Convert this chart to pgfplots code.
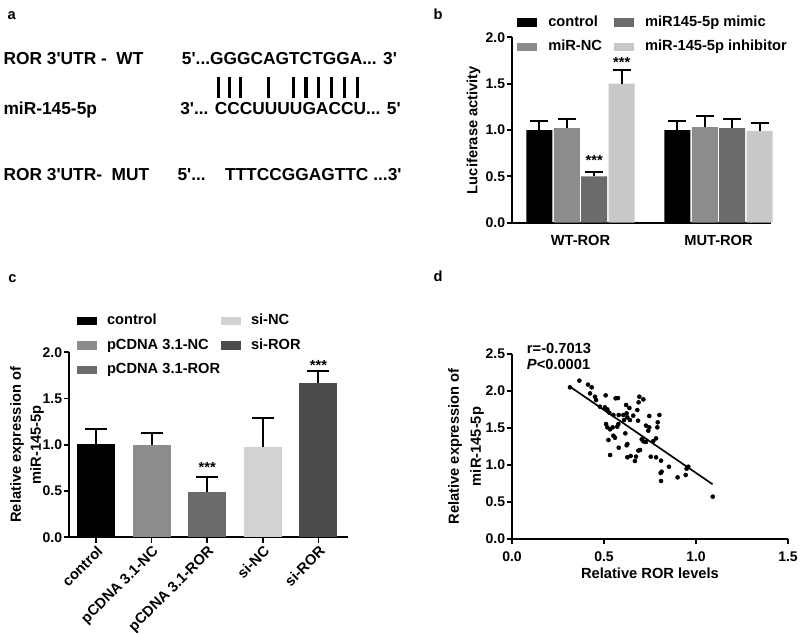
\documentclass[border=0pt]{standalone}
\usepackage{fontspec}
\setmainfont{Liberation Sans}
\usepackage{pgfplots}
\pgfplotsset{compat=1.18}

\definecolor{gnc}{HTML}{8C8C8C}
\definecolor{gmim}{HTML}{6B6B6B}
\definecolor{ginh}{HTML}{C8C8C8}
\definecolor{gsinc}{HTML}{D2D2D2}
\definecolor{gsiror}{HTML}{4B4B4B}

\newcommand\ap{\textquotesingle}
\newcommand\fa{\fontsize{13}{15}\selectfont\bfseries}
\newcommand\fl{\fontsize{11}{13}\selectfont\bfseries}

\pgfplotsset{
  panel/.style={
    scale only axis, axis lines=left,
    axis line style={-, line width=1.3pt},
    tick style={black, line width=1.3pt},
    tick align=outside, major tick length=4pt,
    tick label style={font=\fontsize{10.5}{12}\selectfont\bfseries},
    yticklabel style={inner xsep=1pt},
    label style={font=\fontsize{11}{15}\selectfont\bfseries},
    /pgf/number format/assume math mode=true,
    /pgf/number format/fixed, /pgf/number format/fixed zerofill,
    /pgf/number format/precision=1,
    clip=false},
  errs/.style={
    error bars/y dir=plus, error bars/y explicit, error bars/error mark=|,
    error bars/error bar style={black, line width=1.5pt},
    error bars/error mark options={black, line width=1.5pt, mark size=#1}},
  leg/.style={legend image code/.code={\fill[##1] (0pt,-3.25pt) rectangle (15pt,3.25pt);}},
}

\begin{document}
\begin{tikzpicture}[x=0.75pt, y=-0.75pt]
\useasboundingbox (0,0) rectangle (800,633);

%% panel letters
\node[font=\fl, anchor=base, inner sep=0] at (11.7,19.3) {a};
\node[font=\fl, anchor=base, inner sep=0] at (438,19.3) {b};
\node[font=\fl, anchor=base, inner sep=0] at (12.5,282.7) {c};
\node[font=\fl, anchor=base, inner sep=0] at (438,281) {d};

%% (a) sequences
\begin{scope}[every node/.style={font=\fa, anchor=base west, inner sep=0}]
  \node at (3.3,64) {ROR 3\ap UTR -\ \ WT};
  \node at (181.7,64) {5\ap...GGGCAGTCTGGA... 3\ap};
  \node at (3.3,114.3) {miR-145-5p};
  \node at (180,114.3) {3\ap... CCCUUUUGACCU... 5\ap};
  \node at (3.3,180.7) {ROR 3\ap UTR-\ \ MUT};
  \node at (177.3,180.7) {5\ap...\ \ \ \ TTTCCGGAGTTC ...3\ap};
\end{scope}
\foreach \bx in {218.3,229.3,240.7,268.3,293.3,306,318.3,331.7,344.3,357.3}
  \draw[line width=2.4pt] (\bx,76.7) -- (\bx,98.3);

%% (b) luciferase
\begin{axis}[panel, at={(384pt,-167.025pt)}, anchor=south west,
    width=194.25pt, height=139.05pt,
    xmin=-0.4964, xmax=1.3804, ymin=0, ymax=2,
    ytick={0,0.5,1,1.5,2},
    xtick={0,1}, xticklabels={WT-ROR,MUT-ROR},
    xtick style={draw=none}, xticklabel style={font=\fl, yshift=-2pt},
    ylabel={Luciferase activity},
    ylabel style={at={(axis description cs:-0.148,0.5)}, anchor=center},
    ybar=1.1pt, bar width=19.5pt, errs=6.75pt,
    legend columns=2, transpose legend, legend cell align=left,
    legend style={draw=none, fill=none, inner sep=0pt, at={(0.0193,1.118)}, anchor=north west,
      font=\fl, row sep=7.7pt, nodes={inner sep=0pt, text height=8pt, text depth=2.5pt},
      /tikz/every odd column/.append style={column sep=8.25pt},
      /tikz/every even column/.append style={column sep=9pt}}]
  \addplot[fill=black, draw=none, leg] coordinates {(0,1.00) +- (0,0.10) (1,1.00) +- (0,0.10)};
  \addplot[fill=gnc, draw=none, leg] coordinates {(0,1.02) +- (0,0.10) (1,1.03) +- (0,0.12)};
  \addplot[fill=gmim, draw=none, leg] coordinates {(0,0.50) +- (0,0.05) (1,1.02) +- (0,0.10)};
  \addplot[fill=ginh, draw=none, leg] coordinates {(0,1.50) +- (0,0.15) (1,0.99) +- (0,0.09)};
  \legend{control,miR-NC,miR145-5p mimic,miR-145-5p inhibitor}
  \node[font=\fl, anchor=base] at (axis cs:0.0996,0.621) {***};
  \node[font=\fl, anchor=base] at (axis cs:0.299,1.672) {***};
\end{axis}

%% (c) relative expression
\begin{axis}[panel, at={(51.75pt,-402.975pt)}, anchor=south west,
    width=209.25pt, height=138.75pt,
    xmin=-0.486, xmax=4.532, ymin=0, ymax=2,
    ytick={0,0.5,1,1.5,2},
    xtick={0,1,2,3,4}, xticklabels={control,pCDNA 3.1-NC,pCDNA 3.1-ROR,si-NC,si-ROR},
    xticklabel style={font=\fl, rotate=45, anchor=north east, inner sep=1pt},
    ylabel={Relative expression of\\miR-145-5p},
    ylabel style={align=center, at={(axis description cs:-0.1505,0.5)}, anchor=center},
    errs=8.25pt,
    legend columns=3, transpose legend, legend cell align=left,
    legend style={draw=none, fill=none, inner sep=0pt, at={(0.0287,1.2086)}, anchor=north west,
      font=\fl, row sep=7.9pt, nodes={inner sep=0pt, text height=8pt, text depth=2.5pt},
      /tikz/every odd column/.append style={column sep=7.3pt},
      /tikz/every even column/.append style={column sep=0.75pt}}]
  \addplot[ybar, bar width=28.5pt, fill=black, draw=none, leg] coordinates {(0,1.01) +- (0,0.16)};
  \addplot[ybar, bar width=28.5pt, fill=gnc, draw=none, leg] coordinates {(1,1.00) +- (0,0.13)};
  \addplot[ybar, bar width=28.5pt, fill=gmim, draw=none, leg] coordinates {(2,0.49) +- (0,0.16)};
  \addplot[ybar, bar width=28.5pt, fill=gsinc, draw=none, leg] coordinates {(3,0.98) +- (0,0.31)};
  \addplot[ybar, bar width=28.5pt, fill=gsiror, draw=none, leg] coordinates {(4,1.67) +- (0,0.13)};
  \legend{control,pCDNA 3.1-NC,pCDNA 3.1-ROR,si-NC,si-ROR}
  \node[font=\fl, anchor=base] at (axis cs:2,0.698) {***};
  \node[font=\fl, anchor=base] at (axis cs:4,1.808) {***};
\end{axis}

%% (d) correlation
\begin{axis}[panel, at={(384pt,-404.25pt)}, anchor=south west,
    width=207pt, height=138.75pt,
    xmin=0, xmax=1.5, ymin=0, ymax=2.5,
    xtick={0,0.5,1,1.5}, ytick={0,0.5,1,1.5,2,2.5},
    xticklabel style={yshift=-2pt},
    xlabel={Relative ROR levels},
    xlabel style={at={(axis description cs:0.5,-0.184)}, anchor=center},
    ylabel={Relative expression of\\miR-145-5p},
    ylabel style={align=center, font=\fontsize{11}{16.5}\selectfont\bfseries,
      at={(axis description cs:-0.1667,0.5)}, anchor=center}]
  \addplot[only marks, mark=*, mark size=1.5pt, black] table {
x y
0.315 2.050
0.366 2.140
0.413 2.086
0.433 2.050
0.424 1.968
0.451 1.923
0.457 1.878
0.478 1.788
0.509 1.941
0.505 1.779
0.518 1.752
0.529 1.707
0.563 1.901
0.576 1.905
0.551 1.676
0.580 1.676
0.605 1.676
0.623 1.698
0.620 1.811
0.638 1.770
0.692 1.923
0.688 1.847
0.714 1.887
0.681 1.743
0.659 1.667
0.627 1.644
0.609 1.608
0.641 1.608
0.685 1.599
0.746 1.662
0.801 1.676
0.792 1.577
0.790 1.509
0.728 1.532
0.746 1.509
0.741 1.464
0.511 1.554
0.518 1.509
0.533 1.482
0.547 1.509
0.578 1.554
0.572 1.518
0.616 1.428
0.551 1.396
0.560 1.369
0.524 1.338
0.627 1.284
0.623 1.266
0.580 1.234
0.705 1.347
0.714 1.320
0.728 1.311
0.768 1.324
0.783 1.360
0.687 1.194
0.696 1.203
0.533 1.135
0.627 1.104
0.645 1.122
0.674 1.113
0.668 1.054
0.754 1.113
0.783 1.104
0.810 1.059
0.853 0.977
0.813 0.910
0.808 0.892
0.810 0.784
0.900 0.833
0.944 0.865
0.949 0.950
0.958 0.977
1.091 0.572
};
  \addplot[black, line width=1.25pt] coordinates {(0.32,2.05) (1.09,0.74)};
  \node[font=\fl, anchor=base west, inner sep=0] at (axis cs:0.080,2.509) {r=-0.7013};
  \node[font=\fl, anchor=base west, inner sep=0] at (axis cs:0.080,2.284) {\textit{P}<0.0001};
\end{axis}
\end{tikzpicture}
\end{document}
